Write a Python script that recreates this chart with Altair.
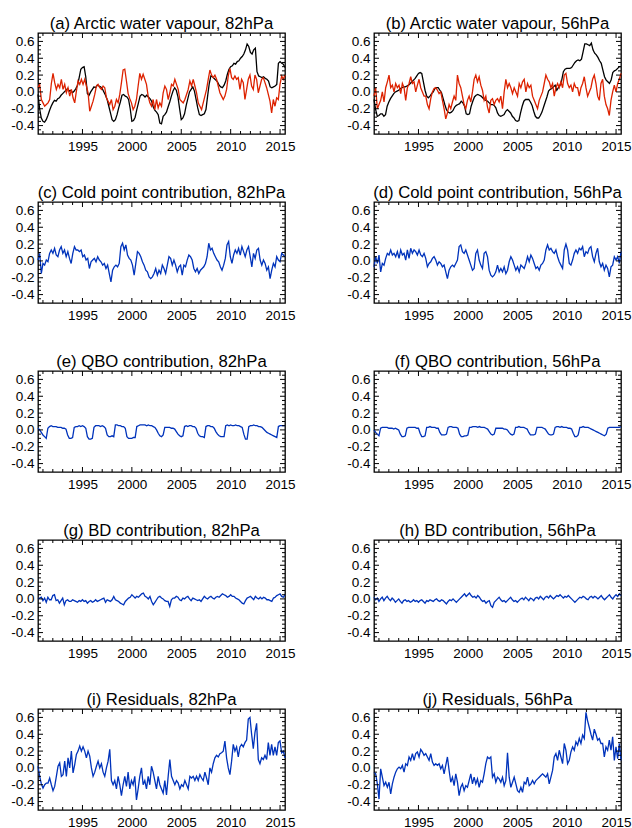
import altair as alt
import pandas as pd

T0, T1 = 1990.5, 2015.5

# ---------------- data ----------------
black_82 = [
    -0.03, -0.20, -0.31, -0.35, -0.36, -0.33, -0.28, -0.22, -0.17, -0.13,
    -0.10, -0.11, -0.08, -0.07, -0.04, -0.02, 0.00, 0.02, 0.04, 0.01,
    0.02, -0.01, 0.01, 0.04, 0.08, 0.17, 0.27, 0.29, 0.30, 0.18,
    -0.02, -0.04, 0.00, 0.03, 0.06, 0.05, 0.08, 0.07, 0.06, 0.04,
    0.00, -0.04, -0.09, -0.17, -0.25, -0.33, -0.35, -0.33, -0.27, -0.19,
    -0.12, -0.04, -0.03, -0.05, -0.06, -0.09, -0.20, -0.35, -0.34, -0.30,
    -0.21, -0.13, -0.05, -0.03, -0.04, -0.06, -0.04, -0.06, -0.08, -0.11,
    -0.18, -0.22, -0.24, -0.27, -0.37, -0.38, -0.29, -0.27, -0.24, -0.18,
    -0.12, -0.05, 0.01, 0.05, 0.02, -0.06, -0.20, -0.33, -0.31, -0.26,
    -0.16, -0.08, 0.00, 0.03, 0.06, 0.01, -0.09, -0.19, -0.27, -0.28,
    -0.27, -0.26, -0.21, -0.05, 0.10, 0.19, 0.18, 0.16, 0.14, 0.12,
    0.08, 0.06, 0.05, 0.08, 0.13, 0.21, 0.27, 0.30, 0.31, 0.34,
    0.33, 0.36, 0.37, 0.40, 0.42, 0.45, 0.50, 0.57, 0.54, 0.47,
    0.45, 0.50, 0.52, 0.24, 0.19, 0.18, 0.17, 0.18, 0.16, 0.15,
    0.13, 0.06, 0.05, 0.06, 0.07, 0.09, 0.34, 0.36, 0.34, 0.33,
    0.29,
]
red_82 = [
    0.05, 0.09, -0.09, -0.13, -0.17, -0.15, -0.13, -0.09, 0.10, 0.22,
    0.11, 0.03, 0.09, 0.05, 0.15, 0.03, 0.09, -0.01, 0.05, -0.05,
    0.03, -0.07, -0.13, 0.01, 0.13, 0.09, 0.15, 0.09, 0.15, 0.07,
    -0.01, -0.23, -0.17, -0.11, -0.03, 0.07, 0.09, 0.05, 0.03, 0.07,
    0.05, -0.07, -0.11, -0.15, -0.09, -0.21, -0.17, -0.09, -0.13, -0.03,
    0.11, 0.26, 0.27, 0.13, -0.02, -0.08, -0.13, -0.21, -0.17, -0.09,
    0.07, 0.22, 0.15, 0.21, 0.15, 0.09, -0.05, -0.13, -0.17, -0.09,
    -0.21, -0.09, -0.19, -0.13, -0.17, -0.01, 0.07, 0.03, -0.09, -0.01,
    0.09, 0.07, 0.15, 0.09, 0.03, -0.09, -0.11, -0.13, -0.09, -0.03,
    0.03, 0.13, 0.07, 0.15, 0.07, -0.01, -0.13, -0.17, -0.21, -0.13,
    -0.05, 0.03, 0.15, 0.26, 0.20, 0.17, 0.20, 0.15, 0.07, -0.01,
    -0.05, -0.09, -0.05, 0.03, 0.19, 0.28, 0.17, 0.15, 0.19, 0.15,
    0.17, 0.03, 0.15, 0.11, -0.09, 0.03, 0.15, 0.20, 0.07, 0.03,
    0.20, 0.15, -0.01, 0.07, 0.15, 0.17, 0.11, 0.05, -0.03, -0.11,
    -0.25, -0.09, -0.17, -0.07, -0.09, 0.09, 0.19, 0.15, 0.20,
]
black_56 = [
    -0.09, -0.21, -0.29, -0.28, -0.26, -0.26, -0.29, -0.27, -0.17, -0.12,
    -0.08, -0.05, -0.02, 0.00, 0.01, 0.02, 0.04, 0.05, 0.06, 0.06,
    0.07, 0.08, 0.10, 0.12, 0.14, 0.16, 0.19, 0.22, 0.23, 0.22,
    0.12, 0.02, -0.05, -0.07, -0.05, -0.02, 0.00, 0.04, 0.05, 0.05,
    0.02, -0.01, -0.08, -0.15, -0.21, -0.24, -0.25, -0.24, -0.22, -0.18,
    -0.16, -0.15, -0.14, -0.11, -0.13, -0.17, -0.26, -0.27, -0.26, -0.17,
    -0.11, -0.06, -0.04, -0.03, -0.04, -0.05, -0.07, -0.09, -0.10, -0.11,
    -0.13, -0.15, -0.15, -0.16, -0.19, -0.25, -0.28, -0.29, -0.28, -0.27,
    -0.23, -0.21, -0.23, -0.25, -0.29, -0.31, -0.34, -0.35, -0.34, -0.25,
    -0.17, -0.11, -0.09, -0.09, -0.09, -0.12, -0.16, -0.23, -0.29, -0.31,
    -0.31, -0.28, -0.24, -0.18, -0.12, -0.06, 0.01, 0.03, 0.04, 0.06,
    0.08, 0.02, 0.05, 0.08, 0.14, 0.24, 0.27, 0.28, 0.28, 0.28,
    0.29, 0.32, 0.35, 0.37, 0.38, 0.37, 0.39, 0.48, 0.57, 0.57,
    0.56, 0.55, 0.58, 0.50, 0.46, 0.44, 0.41, 0.37, 0.34, 0.26,
    0.18, 0.14, 0.12, 0.10, 0.14, 0.23, 0.25, 0.26, 0.28, 0.30,
    0.30,
]
red_56 = [
    -0.05, 0.05, -0.20, -0.15, -0.10, 0.00, -0.12, 0.05, 0.12, 0.20,
    0.05, 0.08, 0.00, 0.10, 0.05, 0.08, -0.02, 0.10, 0.05, -0.10,
    0.05, 0.10, 0.18, 0.10, 0.12, 0.00, 0.08, 0.15, 0.05, 0.00,
    -0.05, -0.05, -0.15, -0.20, -0.08, 0.00, 0.04, 0.05, 0.02, -0.02,
    0.00, -0.10, -0.20, -0.32, -0.25, -0.15, -0.20, -0.12, -0.05, -0.10,
    0.20, 0.10, 0.05, -0.05, -0.15, -0.20, -0.10, -0.05, -0.12, 0.00,
    0.15, 0.20, 0.12, 0.18, 0.08, 0.02, -0.10, -0.05, -0.18, -0.25,
    -0.10, -0.08, -0.15, -0.10, -0.08, -0.12, -0.05, -0.20, 0.00, 0.15,
    0.05, 0.10, 0.05, -0.02, 0.05, 0.00, -0.05, 0.10, 0.05, 0.12,
    0.15, 0.00, 0.10, 0.05, 0.08, -0.05, -0.10, -0.15, -0.20, -0.10,
    -0.05, 0.00, 0.10, 0.20, 0.15, 0.12, 0.05, 0.10, -0.05, 0.05,
    0.10, 0.05, 0.12, 0.05, 0.20, 0.22, 0.10, 0.05, 0.08, 0.00,
    0.10, 0.05, 0.05, -0.05, 0.05, 0.10, 0.18, 0.05, -0.05, 0.00,
    0.05, 0.15, 0.20, 0.10, -0.05, -0.10, 0.10, 0.15, -0.05, -0.15,
    -0.20, -0.28, -0.10, 0.00, 0.08, 0.00, 0.10, 0.15, 0.22,
]
cold_82 = [
    0.01, 0.09, -0.15, -0.03, -0.05, 0.01, -0.01, 0.09, 0.13, 0.09,
    0.15, 0.07, 0.05, 0.13, 0.17, 0.09, 0.13, 0.05, 0.11, 0.03,
    -0.03, 0.09, 0.17, 0.13, 0.13, 0.11, 0.13, 0.05, 0.07, 0.01,
    0.03, -0.09, -0.01, 0.01, 0.03, -0.01, 0.05, 0.01, -0.01, -0.05,
    -0.03, -0.09, -0.05, -0.15, -0.25, -0.11, -0.07, -0.05, -0.07, -0.03,
    0.17, 0.21, 0.13, 0.19, 0.07, 0.03, 0.01, -0.05, -0.17, -0.03,
    0.11, 0.09, 0.05, -0.01, -0.05, -0.11, -0.13, -0.19, -0.21, -0.19,
    -0.15, -0.09, -0.17, -0.11, -0.15, -0.05, -0.09, -0.15, -0.05, 0.05,
    0.03, -0.05, 0.01, -0.05, -0.13, -0.07, -0.05, -0.17, -0.05, -0.07,
    0.01, 0.07, 0.05, 0.01, -0.09, -0.13, -0.09, -0.15, -0.11, -0.09,
    -0.07, -0.03, 0.05, 0.21, 0.13, 0.15, 0.09, 0.05, 0.01, -0.01,
    -0.07, -0.11, -0.05, 0.03, 0.19, 0.23, 0.05, -0.03, 0.07, 0.13,
    0.09, 0.15, 0.07, 0.17, 0.11, 0.05, 0.13, 0.17, 0.05, -0.07,
    0.09, 0.03, 0.13, 0.15, 0.01, -0.05, 0.01, -0.03, -0.11, -0.07,
    -0.21, -0.11, -0.03, -0.07, 0.05, 0.01, -0.01, 0.09, 0.07, 0.05,
]
cold_56 = [
    -0.07, 0.05, -0.03, 0.07, -0.13, -0.03, -0.05, 0.03, 0.09, 0.07,
    0.13, 0.07, 0.09, 0.05, 0.11, 0.03, 0.13, 0.07, 0.09, 0.01,
    0.13, 0.03, 0.15, 0.09, 0.13, 0.11, 0.07, 0.13, 0.07, 0.05,
    0.09, 0.03, -0.07, -0.03, -0.01, 0.03, 0.05, 0.01, -0.05, -0.01,
    -0.03, -0.07, -0.05, -0.13, -0.21, -0.11, -0.07, -0.05, -0.07, -0.03,
    0.01, 0.17, 0.19, 0.11, 0.09, 0.13, 0.07, 0.01, -0.05, -0.11,
    -0.09, 0.09, 0.13, 0.01, -0.05, -0.09, 0.09, 0.11, 0.05, -0.11,
    -0.17, -0.19, -0.17, -0.13, -0.05, -0.13, -0.09, -0.13, -0.07, -0.15,
    -0.11, -0.01, 0.05, 0.01, -0.05, -0.11, -0.07, -0.13, -0.05, -0.07,
    -0.09, -0.03, 0.05, -0.01, 0.07, 0.03, -0.03, -0.09, -0.07, -0.11,
    -0.05, -0.03, 0.01, 0.13, 0.19, 0.13, 0.15, 0.11, 0.09, 0.13,
    0.05, -0.01, -0.05, -0.09, 0.13, 0.20, 0.13, -0.03, -0.05, 0.01,
    0.09, 0.13, 0.09, 0.15, 0.13, 0.17, 0.05, 0.11, 0.09, 0.15,
    0.17, 0.05, -0.01, 0.09, 0.15, -0.01, -0.07, -0.03, -0.11, -0.05,
    -0.09, -0.19, -0.07, -0.05, 0.05, 0.01, 0.05, -0.03, 0.11,
]
qbo_82 = [
    0.02, 0.00, -0.03, -0.06, -0.08, -0.10, 0.02, 0.04, 0.05, 0.04,
    0.04, 0.04, 0.03, 0.03, 0.03, 0.02, 0.02, 0.01, -0.06, -0.10,
    -0.10, -0.09, 0.03, 0.04, 0.04, 0.05, 0.04, 0.05, 0.04, 0.02,
    -0.08, -0.11, -0.11, -0.10, 0.03, 0.05, 0.05, 0.05, 0.04, 0.05,
    0.04, 0.02, -0.06, -0.08, -0.08, -0.07, -0.08, 0.06, 0.06, 0.05,
    0.05, 0.04, 0.04, 0.02, -0.08, -0.10, -0.10, -0.10, -0.09, -0.09,
    0.04, 0.05, 0.06, 0.06, 0.06, 0.06, 0.05, 0.06, 0.05, 0.05,
    0.04, 0.03, 0.00, -0.04, -0.07, -0.08, -0.06, 0.03, 0.03, 0.03,
    0.03, 0.02, 0.02, 0.01, -0.02, -0.05, -0.07, -0.08, -0.07, 0.04,
    0.05, 0.04, 0.05, 0.05, 0.04, 0.04, 0.02, -0.04, -0.07, -0.08,
    -0.08, -0.09, 0.04, 0.05, 0.05, 0.04, 0.04, 0.02, -0.02, -0.05,
    -0.07, -0.08, -0.08, -0.08, 0.05, 0.06, 0.05, 0.06, 0.05, 0.05,
    0.06, 0.05, 0.05, 0.04, 0.03, -0.05, -0.11, -0.11, 0.04, 0.05,
    0.05, 0.06, 0.05, 0.05, 0.04, 0.04, 0.03, 0.01, -0.01, -0.03,
    -0.04, -0.05, -0.06, -0.07, -0.08, -0.09, 0.04, 0.05, 0.05, 0.05,
    0.05,
]
qbo_56 = [
    0.00, -0.03, -0.05, -0.07, 0.02, 0.03, 0.03, 0.03, 0.03, 0.02,
    0.02, 0.02, 0.01, 0.02, 0.01, 0.00, -0.05, -0.08, -0.08, -0.07,
    0.02, 0.03, 0.03, 0.03, 0.03, 0.03, 0.02, 0.02, -0.04, -0.08,
    -0.08, -0.07, 0.03, 0.03, 0.04, 0.03, 0.03, 0.03, 0.02, 0.02,
    -0.03, -0.06, -0.06, -0.06, -0.05, 0.03, 0.04, 0.04, 0.03, 0.03,
    0.03, 0.02, -0.05, -0.08, -0.08, -0.07, -0.07, -0.06, 0.03, 0.03,
    0.04, 0.04, 0.04, 0.03, 0.04, 0.03, 0.03, 0.03, 0.02, 0.01,
    -0.02, -0.05, -0.06, -0.05, 0.02, 0.02, 0.02, 0.02, 0.02, 0.01,
    0.01, 0.00, -0.03, -0.05, -0.06, -0.05, 0.03, 0.03, 0.04, 0.03,
    0.03, 0.03, 0.02, 0.01, -0.03, -0.06, -0.06, -0.06, -0.05, 0.03,
    0.03, 0.03, 0.03, 0.02, 0.01, -0.02, -0.05, -0.06, -0.06, -0.05,
    0.03, 0.04, 0.04, 0.03, 0.04, 0.03, 0.03, 0.03, 0.02, 0.02,
    0.01, -0.04, -0.08, -0.08, -0.06, 0.03, 0.03, 0.04, 0.03, 0.03,
    0.03, 0.02, 0.01, 0.00, -0.01, -0.02, -0.03, -0.04, -0.05, -0.06,
    -0.07, -0.05, 0.02, 0.03, 0.03, 0.03, 0.03, 0.03, 0.03, 0.03,
    0.04,
]
bd_82 = [
    0.00, 0.01, 0.02, -0.02, 0.01, -0.04, 0.02, -0.01, -0.01, 0.04,
    0.05, -0.02, -0.01, -0.05, -0.02, 0.01, -0.07, -0.02, -0.01, -0.03,
    -0.03, -0.01, -0.02, -0.03, -0.04, -0.02, -0.03, -0.01, -0.03, -0.02,
    -0.05, -0.03, -0.02, -0.04, -0.03, -0.01, -0.03, -0.02, -0.01, 0.00,
    0.01, -0.04, -0.01, -0.02, -0.03, -0.01, 0.03, -0.01, -0.02, -0.03,
    -0.05, -0.06, -0.07, -0.03, -0.01, 0.01, 0.02, 0.05, 0.03, 0.01,
    0.03, 0.02, 0.04, 0.06, 0.07, 0.03, 0.02, 0.00, 0.03, -0.03,
    -0.07, -0.04, -0.01, 0.02, 0.03, 0.01, 0.00, -0.02, -0.03, -0.03,
    -0.09, -0.01, 0.01, 0.01, 0.03, 0.02, -0.01, -0.02, 0.01, 0.00,
    0.02, 0.03, 0.00, -0.02, 0.01, 0.00, -0.01, -0.02, -0.01, -0.03,
    0.00, 0.03, 0.01, 0.00, 0.02, 0.03, 0.01, 0.00, 0.02, 0.03,
    0.02, 0.04, 0.06, 0.05, 0.04, 0.02, 0.03, 0.05, 0.03, 0.03,
    0.01, 0.00, -0.01, -0.03, -0.05, -0.06, -0.02, 0.01, 0.02, 0.03,
    0.01, -0.01, 0.03, 0.01, 0.00, 0.02, 0.00, 0.02, 0.01, -0.01,
    -0.01, -0.02, -0.03, 0.01, 0.02, 0.04, 0.05, 0.06, 0.03, 0.02,
    0.05,
]
bd_56 = [
    0.02, -0.01, 0.01, -0.03, 0.00, 0.02, -0.02, 0.01, 0.03, 0.00,
    -0.02, 0.01, -0.01, -0.04, -0.02, 0.00, -0.03, -0.05, -0.02, -0.01,
    -0.03, -0.02, -0.04, -0.03, -0.01, -0.03, -0.02, -0.04, -0.02, -0.01,
    -0.03, -0.05, -0.02, -0.03, -0.01, -0.02, -0.03, -0.01, 0.00, -0.02,
    -0.03, -0.01, -0.02, -0.04, -0.06, -0.03, -0.01, -0.02, 0.00, -0.02,
    -0.04, -0.02, 0.00, 0.02, 0.04, 0.06, 0.03, 0.05, 0.07, 0.04,
    0.02, 0.03, 0.01, 0.04, 0.02, -0.01, -0.03, -0.02, -0.05, -0.03,
    -0.02, -0.08, -0.10, -0.04, -0.02, 0.00, 0.02, -0.01, -0.03, -0.02,
    -0.04, -0.02, 0.00, 0.02, -0.01, -0.03, -0.02, -0.04, -0.02, 0.00,
    0.01, -0.01, 0.02, 0.00, -0.02, 0.01, 0.00, -0.02, 0.01, 0.02,
    0.00, 0.03, 0.01, -0.01, 0.02, 0.03, 0.01, 0.04, 0.02, 0.00,
    0.02, 0.04, 0.03, 0.05, 0.03, 0.01, 0.03, 0.02, 0.04, 0.02,
    0.00, -0.02, -0.04, -0.02, 0.00, 0.02, 0.01, 0.03, 0.02, 0.00,
    -0.01, 0.02, 0.03, 0.01, 0.03, 0.02, 0.00, 0.02, 0.04, 0.01,
    -0.01, 0.01, 0.03, 0.05, 0.02, 0.00, 0.03, 0.05, 0.03, 0.06,
    0.04,
]
resid_82 = [
    0.02, -0.10, -0.19, -0.24, -0.20, -0.18, -0.18, -0.12, -0.20, -0.27,
    -0.22, -0.10, 0.02, 0.06, -0.10, -0.08, 0.08, -0.10, 0.12, 0.00,
    0.20, -0.06, 0.04, 0.16, 0.20, 0.26, 0.20, 0.25, 0.20, 0.12,
    0.20, 0.14, 0.00, -0.10, -0.05, 0.02, 0.08, 0.00, 0.05, -0.05,
    -0.10, 0.00, 0.08, 0.22, -0.15, -0.20, -0.15, -0.25, -0.10, -0.20,
    -0.33, -0.20, -0.10, -0.22, -0.05, -0.25, -0.15, -0.20, -0.10, -0.38,
    -0.25, -0.10, 0.00, -0.20, -0.15, -0.25, -0.10, -0.20, 0.02, -0.05,
    -0.15, -0.25, -0.10, -0.20, -0.25, -0.30, -0.15, -0.32, -0.10, 0.10,
    -0.10, -0.15, -0.20, -0.15, -0.18, -0.25, -0.20, -0.22, -0.15, -0.20,
    -0.25, -0.10, -0.12, -0.10, -0.15, -0.10, -0.15, -0.08, -0.12, -0.15,
    -0.05, -0.12, -0.20, 0.00, -0.05, 0.05, 0.12, 0.15, 0.13, 0.17,
    0.18, 0.20, 0.32, 0.12, 0.00, -0.08, 0.08, 0.28, 0.20, 0.25,
    0.13, 0.25, 0.28, 0.25, 0.30, 0.33, 0.58, 0.60, 0.40, 0.23,
    0.42, 0.53, 0.10, 0.05, 0.12, 0.10, 0.15, 0.10, 0.30, 0.15,
    0.28, 0.15, 0.25, 0.15, 0.30, 0.32, 0.18, 0.20, 0.12,
]
resid_56 = [
    -0.05, -0.07, -0.19, -0.37, -0.01, -0.11, -0.21, -0.17, -0.23, -0.17,
    -0.31, -0.19, -0.11, -0.05, -0.01, 0.01, -0.01, 0.03, -0.05, 0.05,
    0.03, 0.13, 0.09, 0.17, 0.09, 0.17, 0.19, 0.13, 0.22, 0.19,
    0.15, 0.17, 0.13, 0.09, 0.17, 0.07, 0.03, 0.05, 0.03, 0.05,
    -0.01, 0.03, -0.07, 0.03, 0.13, -0.03, -0.17, -0.11, -0.21, -0.07,
    -0.17, -0.33, -0.23, -0.19, -0.27, -0.21, -0.23, -0.15, -0.07, -0.19,
    -0.11, -0.19, -0.13, -0.23, -0.15, -0.17, -0.07, 0.05, 0.13, 0.11,
    0.13, -0.11, -0.07, -0.17, -0.11, -0.13, -0.17, -0.11, -0.21, -0.15,
    0.18, -0.11, -0.23, -0.17, -0.11, -0.19, -0.27, -0.29, -0.23, -0.29,
    -0.17, -0.19, -0.11, -0.21, -0.19, -0.15, -0.19, -0.15, -0.13, -0.11,
    -0.09, -0.07, -0.09, -0.11, -0.07, -0.19, -0.11, -0.03, 0.13, 0.17,
    0.09, 0.21, 0.13, 0.05, 0.29, 0.21, 0.05, 0.09, 0.19, 0.25,
    0.21, 0.31, 0.27, 0.35, 0.29, 0.39, 0.35, 0.66, 0.56, 0.48,
    0.40, 0.33, 0.46, 0.40, 0.33, 0.35, 0.29, 0.29, 0.13, 0.25,
    0.21, 0.33, 0.21, 0.37, 0.09, 0.25, 0.11, 0.29, 0.09,
]

titles = [
    "(a) Arctic water vapour, 82hPa", "(b) Arctic water vapour, 56hPa",
    "(c) Cold point contribution, 82hPa", "(d) Cold point contribution, 56hPa",
    "(e) QBO contribution, 82hPa", "(f) QBO contribution, 56hPa",
    "(g) BD contribution, 82hPa", "(h) BD contribution, 56hPa",
    "(i) Residuals, 82hPa", "(j) Residuals, 56hPa",
]

year_major = [1995, 2000, 2005, 2010, 2015]
year_minor = [1991, 1992, 1993, 1994, 1996, 1997, 1998, 1999, 2001, 2002, 2003,
              2004, 2006, 2007, 2008, 2009, 2011, 2012, 2013, 2014]
val_major = [-0.4, -0.2, 0.0, 0.2, 0.4, 0.6]
val_minor = [-0.45, -0.35, -0.3, -0.25, -0.15, -0.1, -0.05, 0.05, 0.1, 0.15,
             0.25, 0.3, 0.35, 0.45, 0.5, 0.55, 0.65]

# ---------------- styling ----------------
FONT = "Liberation Sans"
BLACK, RED, BLUE = "#000000", "#DD2200", "#0033BB"
W, H = 247, 101
MAJ, MIN = 5, 3
LABEL_SIZE = 13.5

XS = alt.Scale(domain=[T0, T1], nice=False, zero=False)
YS = alt.Scale(domain=[-0.5, 0.7], nice=False, zero=False)


def times(n):
    return [T0 + (T1 - T0) * k / (n - 1) for k in range(n)]


def x_axis():
    return alt.Axis(values=year_major, format="d", labelFlush=False, grid=False,
                    domain=False, ticks=False, tickSize=0, labelPadding=5,
                    orient="bottom", title=None, labelOverlap=False,
                    labelFont=FONT, labelFontSize=LABEL_SIZE, labelColor="black")


def y_axis():
    return alt.Axis(values=val_major, grid=False, domain=False, ticks=False,
                    tickSize=0, labelPadding=4, orient="left", title=None,
                    labelOverlap=False, labelFont=FONT, labelFontSize=LABEL_SIZE,
                    labelColor="black", minExtent=28, maxExtent=28,
                    labelExpr="(datum.value < 0 ? '-' : '') + format(abs(datum.value), '.1f')")


def panel(title, series):
    layers = []
    for vals, color in series:
        df = pd.DataFrame({"t": times(len(vals)), "v": vals})
        layers.append(
            alt.Chart(df).mark_line(color=color, strokeWidth=1.3).encode(
                x=alt.X("t:Q", scale=XS, axis=x_axis()),
                y=alt.Y("v:Q", scale=YS, axis=y_axis()),
            )
        )
    for vals, size in ((val_major, MAJ), (val_minor, MIN)):
        d = pd.DataFrame({"v": vals})
        for x0, x1 in ((0, size), (W, W - size)):
            layers.append(
                alt.Chart(d).mark_rule(color="black", strokeWidth=1).encode(
                    y=alt.Y("v:Q", scale=YS, axis=y_axis()),
                    x=alt.value(x0), x2=alt.value(x1),
                )
            )
    for vals, size in ((year_major, MAJ), (year_minor, MIN)):
        d = pd.DataFrame({"t": vals})
        for y0, y1 in ((H, H - size), (0, size)):
            layers.append(
                alt.Chart(d).mark_rule(color="black", strokeWidth=1).encode(
                    x=alt.X("t:Q", scale=XS, axis=x_axis()),
                    y=alt.value(y0), y2=alt.value(y1),
                )
            )
    return alt.layer(*layers).properties(
        width=W, height=H,
        title=alt.TitleParams(title, fontSize=16.7, font=FONT, fontWeight="normal",
                              color="black", offset=-17.5, baseline="bottom",
                              anchor="middle"),
    )


panel_series = [
    [(black_82, BLACK), (red_82, RED)], [(black_56, BLACK), (red_56, RED)],
    [(cold_82, BLUE)], [(cold_56, BLUE)],
    [(qbo_82, BLUE)], [(qbo_56, BLUE)],
    [(bd_82, BLUE)], [(bd_56, BLUE)],
    [(resid_82, BLUE)], [(resid_56, BLUE)],
]

rows = []
for r in range(5):
    rows.append(alt.hconcat(panel(titles[2 * r], panel_series[2 * r]),
                            panel(titles[2 * r + 1], panel_series[2 * r + 1]),
                            spacing=49))

chart = alt.vconcat(*rows, spacing=30).properties(
    padding={"left": 9, "top": 15, "right": 0, "bottom": 0},
    background="white",
).configure_view(stroke="black", strokeWidth=1.3)

chart.save("out.html", embed_options={"renderer": "svg", "actions": False})
